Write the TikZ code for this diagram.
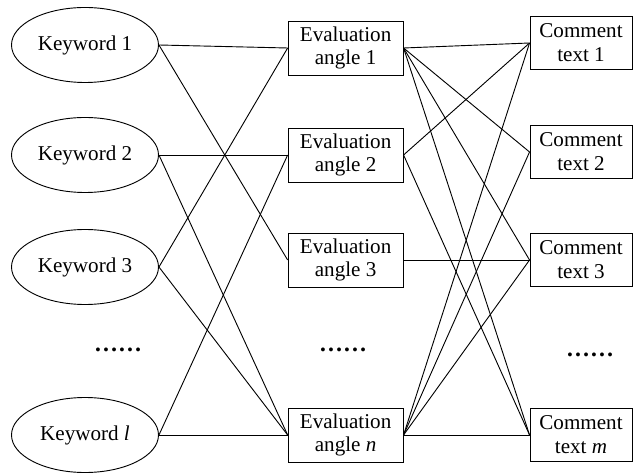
\documentclass[tikz,border=0pt]{standalone}
\usepackage{fontspec}
\setmainfont{Liberation Serif}
\usepackage{tikz}
\usetikzlibrary{shapes.geometric, positioning}
\usepackage{xcolor}

\begin{document}
\begin{tikzpicture}[
    font=\fontsize{15}{17}\selectfont,
    line width=0.65pt,
    keyword/.style={ellipse, draw, minimum width=3.675cm, minimum height=1.875cm, inner sep=0pt, align=center},
    angle/.style={rectangle, draw, minimum width=2.875cm, minimum height=1.35cm, inner sep=0pt, align=center},
    comment/.style={rectangle, draw, minimum width=2.55cm, minimum height=1.33cm, inner sep=0pt, align=center},
    dots/.style={font=\fontsize{17}{17}\selectfont\bfseries}
]
\useasboundingbox (0,0) rectangle (16,-11.875);

% Keywords
\node[keyword] (kw1) at (2.125,-1.125) {Keyword 1};
\node[keyword] (kw2) at (2.125,-3.875) {Keyword 2};
\node[keyword] (kw3) at (2.125,-6.675) {Keyword 3};
\node[dots] (kwdots) at (2.95,-8.75) {……};
\node[keyword] (kwl) at (2.125,-10.875) {Keyword \textit{l}};

% Evaluation angles
\node[angle] (ev1) at (8.64,-1.2) {Evaluation\\angle 1};
\node[angle] (ev2) at (8.64,-3.875) {Evaluation\\angle 2};
\node[angle] (ev3) at (8.64,-6.5) {Evaluation\\angle 3};
\node[dots] (evdots) at (8.575,-8.75) {……};
\node[angle] (evn) at (8.64,-10.875) {Evaluation\\angle \textit{n}};

% Comment texts
\node[comment] (ct1) at (14.525,-1.075) {Comment\\text 1};
\node[comment] (ct2) at (14.525,-3.8) {Comment\\text 2};
\node[comment] (ct3) at (14.525,-6.5) {Comment\\text 3};
\node[dots] (ctdots) at (14.75,-8.875) {……};
\node[comment] (ctm) at (14.525,-10.875) {Comment\\text \textit{m}};

% Keywords to angles
\draw (kw1.east) -- (ev1.west);
\draw (kw1.east) -- (ev3.west);
\draw (kw2.east) -- (ev2.west);
\draw (kw2.east) -- (evn.west);
\draw (kw3.east) -- (ev1.west);
\draw (kw3.east) -- (evn.west);
\draw (kwl.east) -- (ev2.west);
\draw (kwl.east) -- (evn.west);

% Angles to comments
\draw (ev1.east) -- (ct1.west);
\draw (ev1.east) -- (ct2.west);
\draw (ev1.east) -- (ct3.west);
\draw (ev1.east) -- (ctm.west);
\draw (ev2.east) -- (ct1.west);
\draw (ev2.east) -- (ctm.west);
\draw (ev3.east) -- (ct3.west);
\draw (evn.east) -- (ct1.west);
\draw (evn.east) -- (ct2.west);
\draw (evn.east) -- (ct3.west);
\draw (evn.east) -- (ctm.west);

\end{tikzpicture}
\end{document}
